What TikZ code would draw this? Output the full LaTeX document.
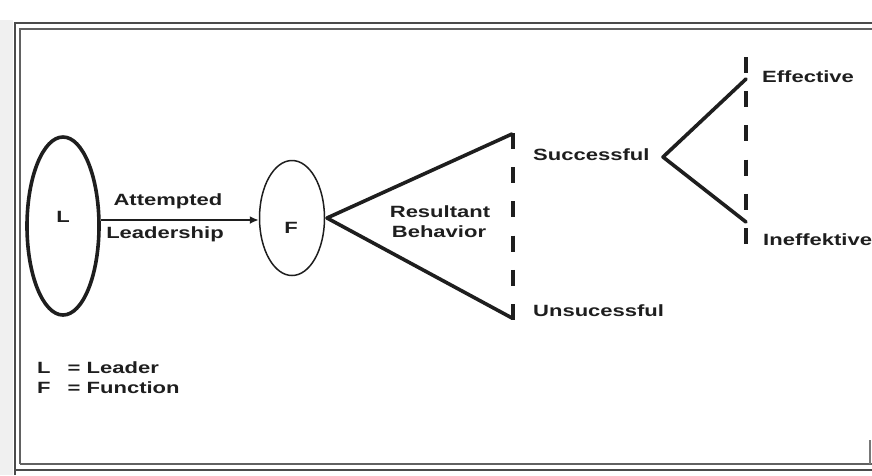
\documentclass[tikz,border=0pt]{standalone}
\usepackage{fontspec}
\setmainfont{Liberation Sans}[FakeStretch=1.35]
\usetikzlibrary{arrows.meta,shapes.geometric}
\definecolor{ink}{HTML}{1E1E1E}
\tikzset{
  lbl/.style={inner sep=0pt, text=ink, font=\fontsize{16.3}{19}\selectfont\bfseries},
  thickln/.style={draw=ink, line width=3.6pt, line cap=round, line join=round},
  dashln/.style={draw=ink, line width=4.5pt, dash pattern=on 16pt off 18.2pt},
  frameln/.style={draw=ink!80, line width=2.5pt},
}
\begin{document}
\begin{tikzpicture}[x=1pt,y=-1pt]
\useasboundingbox (0,0) rectangle (872,475);
\clip (0,0) rectangle (872,475);
\fill[gray!12] (0,20) rectangle (13,475);
% frame
\draw[frameln] (15,475) -- (15,23) -- (880,23);
\draw[draw=ink!70, line width=1.6pt] (20,464) -- (20,29) -- (880,29);
\draw[draw=ink!70, line width=1.6pt] (20,464) -- (880,464);
\draw[draw=ink!60, line width=1.4pt] (870,464) -- (870,440);
\draw[frameln] (15,470) -- (880,470);
% ellipses
\node[draw=ink, line width=3.6pt, shape=ellipse, minimum width=72pt, minimum height=178pt, inner sep=0pt] (L) at (63,226) {};
\node[draw=ink, line width=1.5pt, shape=ellipse, minimum width=65pt, minimum height=115pt, inner sep=0pt] (F) at (292,218) {};
\node[lbl] (Lt) at (63,217) {L};
\node[lbl] (Ft) at (291,228) {F};
% arrow
\draw[draw=ink, line width=1.8pt, -{Latex[length=9pt,width=8pt]}] (L.east |- 0,220) coordinate (a0) -- (F.west |- 0,220);
\node[lbl, anchor=base] (att) at (168,205) {Attempted};
\node[lbl, anchor=base] (lead) at (165,238.5) {Leadership};
% first fork
\coordinate (p0) at (327,218);
\coordinate (p1) at (512,134);
\coordinate (p2) at (512,318);
\draw[thickln] (p1) -- (p0) -- (p2);
\draw[dashln] (513,133) -- (513,320);
\node[lbl, anchor=base] (res) at (440,217) {Resultant};
\node[lbl, anchor=base] (beh) at (439,237) {Behavior};
\node[lbl, anchor=base west] (succ) at (533,160.5) {Successful};
\node[lbl, anchor=base west] (unsucc) at (533,316.5) {Unsucessful};
% second fork
\coordinate (q0) at (663,157);
\coordinate (q1) at (746,79);
\coordinate (q2) at (746,222);
\draw[thickln] (q1) -- (q0) -- (q2);
\draw[dashln] (746,57) -- (746,243.5);
\node[lbl, anchor=base west] (eff) at (762,82.5) {Effective};
\node[lbl, anchor=base west] (ineff) at (763,245) {Ineffektive};
% legend
\node[lbl, anchor=base west] (leg1) at (37,373) {L\hspace{1.05em}= Leader};
\node[lbl, anchor=base west] (leg2) at (37,393.5) {F\hspace{1.05em}= Function};
\end{tikzpicture}
\end{document}
